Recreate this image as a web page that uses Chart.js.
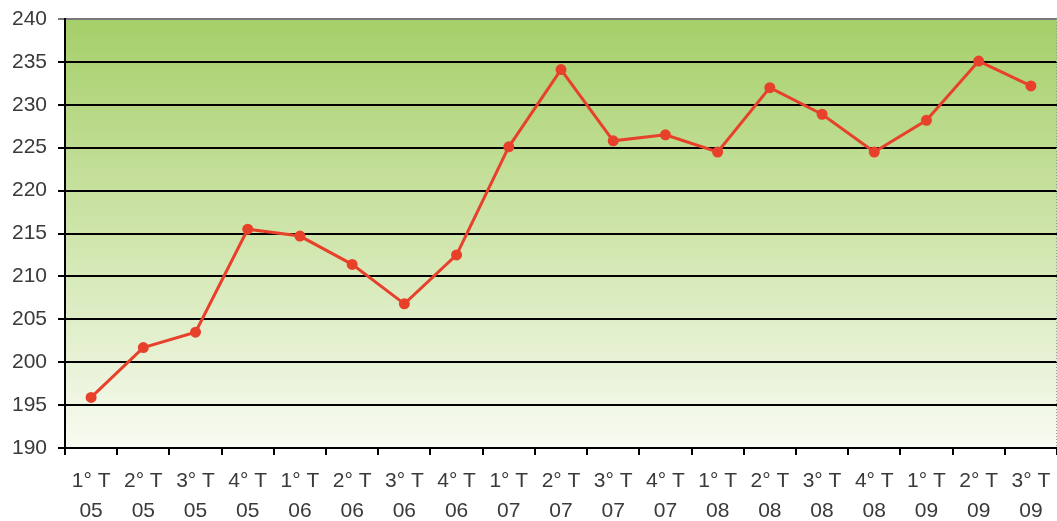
<!DOCTYPE html>
<html lang="pt">
<head>
    <meta charset="UTF-8">
    <title>Trimestres</title>
    <script src="https://cdn.jsdelivr.net/npm/chart.js"></script>
    <style>
        body { margin: 0; background: #fff; overflow: hidden; }
        #wrap { width: 1057px; height: 521px; }
    </style>
</head>
<body>
    <div id="wrap"><canvas id="myChart"></canvas></div>
    <script>
        // quarters and years
        const quarters = ['1° T', '2° T', '3° T', '4° T', '1° T', '2° T', '3° T', '4° T', '1° T', '2° T', '3° T', '4° T', '1° T', '2° T', '3° T', '4° T', '1° T', '2° T', '3° T'];
        const years = ['05', '05', '05', '05', '06', '06', '06', '06', '07', '07', '07', '07', '08', '08', '08', '08', '09', '09', '09'];
        const values = [195.9, 201.7, 203.5, 215.5, 214.7, 211.4, 206.8, 212.5, 225.1, 234.1, 225.8, 226.5, 224.5, 232.0, 228.9, 224.5, 228.2, 235.1, 232.2];
        const yTicks = [190, 195, 200, 205, 210, 215, 220, 225, 230, 235, 240];

        const labels = quarters.map((q, i) => [q, years[i]]);

        // green gradient behind the plot, dotted edge on the right
        const bgPlugin = {
            id: 'plotBg',
            beforeDraw(chart) {
                const { ctx, chartArea: a } = chart;
                const g = ctx.createLinearGradient(0, a.top, 0, a.bottom);
                g.addColorStop(0, '#a5cf69');
                g.addColorStop(0.5, '#cfe5ab');
                g.addColorStop(1, '#f8fbf2');
                ctx.save();
                ctx.fillStyle = g;
                ctx.fillRect(a.left, a.top, a.right - a.left, a.bottom - a.top);
                ctx.restore();
            },
            afterDraw(chart) {
                const { ctx, chartArea: a } = chart;
                ctx.save();
                ctx.strokeStyle = '#999';
                ctx.lineWidth = 1;
                ctx.setLineDash([1, 2]);
                ctx.beginPath();
                ctx.moveTo(a.right - 0.5, a.top);
                ctx.lineTo(a.right - 0.5, a.bottom);
                ctx.stroke();
                ctx.restore();
            }
        };

        const ctx = document.getElementById('myChart').getContext('2d');
        const myChart = new Chart(ctx, {
            type: 'line',
            data: {
                labels: labels,
                datasets: [{
                    data: values,
                    borderColor: '#e8412b',
                    backgroundColor: '#e8412b',
                    borderWidth: 3,
                    pointRadius: 4,
                    pointHoverRadius: 4,
                    tension: 0
                }]
            },
            options: {
                responsive: true,
                maintainAspectRatio: false,
                animation: false,
                layout: { autoPadding: false, padding: { top: 19, right: 0, left: 0, bottom: 0 } },
                plugins: {
                    legend: { display: false },
                    tooltip: { enabled: false }
                },
                scales: {
                    x: {
                        offset: true,
                        afterFit(scale) {
                            scale.height = 73;
                            scale.paddingLeft = 0;
                            scale.paddingRight = 0;
                        },
                        grid: {
                            offset: true,
                            drawOnChartArea: false,
                            color: '#000',
                            lineWidth: 2,
                            tickLength: 7
                        },
                        border: { color: '#000', width: 2 },
                        ticks: {
                            color: '#3a3a3a',
                            font: { family: 'Liberation Sans', size: 21, lineHeight: 1.4 },
                            maxRotation: 0,
                            autoSkip: false,
                            padding: 12
                        }
                    },
                    y: {
                        min: 190,
                        max: 240,
                        afterFit(scale) {
                            scale.width = 65;
                            scale.paddingTop = 0;
                            scale.paddingBottom = 0;
                        },
                        afterBuildTicks(scale) { scale.ticks = yTicks.map(v => ({ value: v })); },
                        grid: {
                            color: (c) => c.tick && c.tick.value === 240 ? '#777' : '#000',
                            lineWidth: 2,
                            tickLength: 7
                        },
                        border: { color: '#000', width: 2 },
                        ticks: {
                            color: '#3a3a3a',
                            font: { family: 'Liberation Sans', size: 21 },
                            padding: 11
                        }
                    }
                }
            },
            plugins: [bgPlugin]
        });
    </script>
</body>
</html>
